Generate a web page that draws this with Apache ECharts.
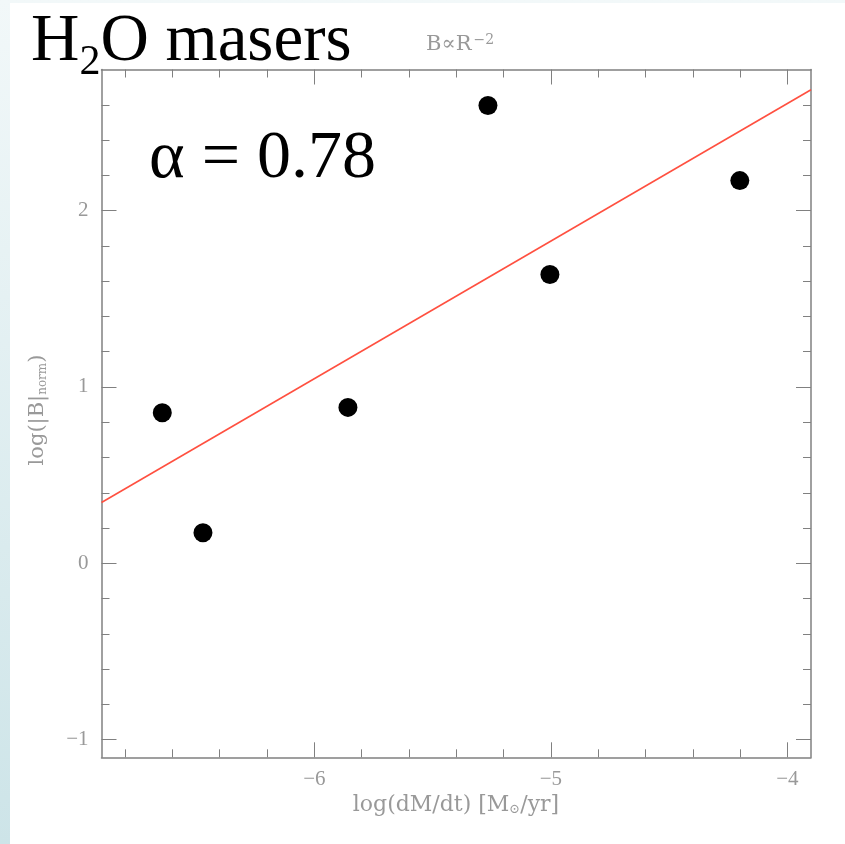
<!DOCTYPE html>
<html>
<head>
<meta charset="utf-8">
<script src="https://cdn.jsdelivr.net/npm/echarts@6/dist/echarts.min.js"></script>
<style>
  html, body { margin: 0; padding: 0; }
  #chart {
    width: 845px;
    height: 844px;
    background:
      linear-gradient(#ffffff, #ffffff) 10px 3px / 835px 841px no-repeat,
      linear-gradient(#f2f8f9, #cde4e8);
  }
</style>
</head>
<body>
<div id="chart"></div>
<script>
// mass-loss rate vs normalised field strength
var massLoss = [-6.643, -6.471, -5.858, -5.266, -5.004, -4.201];
var fieldNorm = [0.854, 0.173, 0.884, 2.596, 1.638, 2.170];

// fitted line, alpha = 0.78
var fitX = [-6.9, -3.9];
var fitY = [0.345, 2.685];

var xMajorTicks = [-6, -5, -4];
var xMinorTicks = [-6.8, -6.6, -6.4, -6.2, -5.8, -5.6, -5.4, -5.2, -4.8, -4.6, -4.4, -4.2];
var yMajorTicks = [-1, 0, 1, 2];
var yMinorTicks = [-0.8, -0.6, -0.4, -0.2, 0.2, 0.4, 0.6, 0.8, 1.2, 1.4, 1.6, 1.8, 2.2, 2.4, 2.6];

var frameColor = '#808080';
var labelColor = '#999999';
var serif = '"Liberation Serif", "DejaVu Serif", serif';
var plotFont = '"DejaVu Serif", serif';

function minusSign(v) {
    return String(v).replace('-', '\u2212');
}

function makeAxis(type, position, ticks, tickLen, withLabels, withLine) {
    var axis = {
        type: 'value',
        position: position,
        min: type == 'x' ? -6.9 : -1.1,
        max: type == 'x' ? -3.9 : 2.8,
        axisLine: { show: withLine, onZero: false, lineStyle: { color: frameColor, width: 1.5 } },
        axisTick: {
            show: true,
            inside: true,
            length: tickLen,
            customValues: ticks,
            lineStyle: { color: frameColor, width: 1 }
        },
        axisLabel: { show: false },
        splitLine: { show: false }
    };
    if (withLabels) {
        axis.axisLabel = {
            show: true,
            customValues: ticks,
            formatter: minusSign,
            color: labelColor,
            fontFamily: serif,
            fontSize: 21,
            margin: type == 'x' ? 12 : 13
        };
    }
    return axis;
}

var chart = echarts.init(document.getElementById('chart'), null, { renderer: 'canvas' });

var points = massLoss.map(function(x, i) { return [x, fieldNorm[i]]; });
var fitLine = fitX.map(function(x, i) { return [x, fitY[i]]; });

option = {
    backgroundColor: 'transparent',
    animation: false,
    grid: { left: 101.5, right: 34, top: 69.5, bottom: 86.7 },
    xAxis: [
        makeAxis('x', 'bottom', xMajorTicks, 15, true, true),
        makeAxis('x', 'bottom', xMinorTicks, 8, false, false),
        makeAxis('x', 'top', xMajorTicks, 15, false, true),
        makeAxis('x', 'top', xMinorTicks, 8, false, false)
    ],
    yAxis: [
        makeAxis('y', 'left', yMajorTicks, 15, true, true),
        makeAxis('y', 'left', yMinorTicks, 8, false, false),
        makeAxis('y', 'right', yMajorTicks, 15, false, true),
        makeAxis('y', 'right', yMinorTicks, 8, false, false)
    ],
    series: [
        {
            type: 'line',
            data: fitLine,
            xAxisIndex: 0,
            yAxisIndex: 0,
            showSymbol: false,
            lineStyle: { color: '#ff5040', width: 1.6 },
            z: 2
        },
        {
            type: 'scatter',
            data: points,
            xAxisIndex: 0,
            yAxisIndex: 0,
            symbolSize: 19,
            itemStyle: { color: '#000000', opacity: 1 },
            z: 3
        }
    ],
    graphic: [
        {
            type: 'text',
            left: 31,
            top: 9,
            style: {
                text: 'H{sub|2}O masers',
                fill: '#000',
                font: '67px ' + serif,
                rich: {
                    sub: { fontSize: 42, fontFamily: serif, fill: '#000', padding: [40, 0, 0, 0] }
                }
            }
        },
        {
            type: 'text',
            left: 426,
            top: 33,
            style: {
                text: 'B\u221dR{sup|\u22122}',
                fill: labelColor,
                font: '21px ' + plotFont,
                rich: {
                    sup: { fontSize: 14, fontFamily: plotFont, fill: labelColor, padding: [0, 0, 10, 2] }
                }
            }
        },
        {
            type: 'text',
            left: 149,
            top: 125,
            style: {
                text: '\u03b1 = 0.78',
                fill: '#000',
                font: '68px ' + serif
            }
        },
        {
            type: 'text',
            x: 456,
            y: 805,
            style: {
                text: 'log(dM/dt) [M{sub|\u2299}/yr]',
                fill: labelColor,
                font: '22px ' + plotFont,
                align: 'center',
                verticalAlign: 'middle',
                rich: {
                    sub: { fontSize: 13, fontFamily: plotFont, fill: labelColor, padding: [10, 0, 0, 0] }
                }
            }
        },
        {
            type: 'text',
            x: 38,
            y: 410,
            rotation: Math.PI / 2,
            style: {
                text: 'log(|B|{sub|norm})',
                fill: labelColor,
                font: '21px ' + plotFont,
                align: 'center',
                verticalAlign: 'middle',
                rich: {
                    sub: { fontSize: 12, fontFamily: plotFont, fill: labelColor, padding: [10, 0, 0, 0] }
                }
            }
        }
    ]
};

chart.setOption(option);
</script>
</body>
</html>
